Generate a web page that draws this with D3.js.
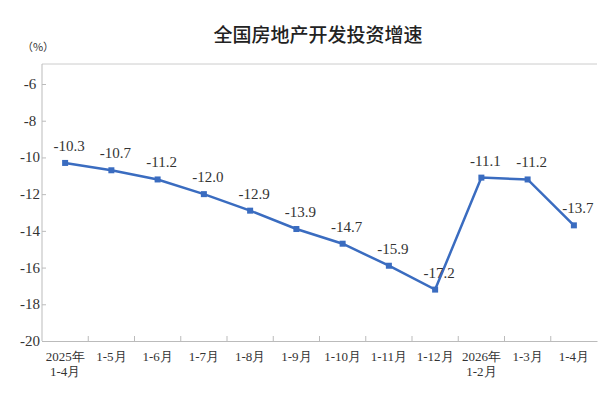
<!DOCTYPE html><html><head><meta charset="utf-8"><script src="https://cdn.jsdelivr.net/npm/d3@7"></script>
<style>body{margin:0;background:#fff}</style></head><body><svg id="c" width="600" height="400"></svg>
<script>
const categories=[["2025年","1-4月"],["1-5月"],["1-6月"],["1-7月"],["1-8月"],["1-9月"],["1-10月"],["1-11月"],["1-12月"],["2026年","1-2月"],["1-3月"],["1-4月"]];
const values=[-10.3,-10.7,-11.2,-12.0,-12.9,-13.9,-14.7,-15.9,-17.2,-11.1,-11.2,-13.7];
const yTicks=[-6,-8,-10,-12,-14,-16,-18,-20];
const svg=d3.select("#c");
const L=42,R=597,T=64,B=341;
const x=d3.scaleBand().domain(d3.range(values.length)).range([L,R]);
const y=d3.scaleLinear().domain([-20,-6]).range([B,84]);
const serif="Liberation Serif, DejaVu Serif, serif";
svg.append("text").attr("x",318).attr("y",42).attr("text-anchor","middle").attr("font-family","Noto Sans CJK SC").attr("font-weight",500).attr("font-size",19).attr("fill","#222").text("全国房地产开发投资增速");
svg.append("text").attr("x",38).attr("y",51).attr("text-anchor","middle").attr("font-family","Noto Sans CJK SC").attr("font-size",11).attr("fill","#333").text("（%）");
svg.append("line").attr("x1",L).attr("x2",R).attr("y1",T).attr("y2",T).attr("stroke","#ccc");
const ya=svg.append("g").attr("transform",`translate(${L},0)`).call(d3.axisRight(y).tickValues(yTicks).tickSize(4).tickFormat(""));
ya.select(".domain").attr("d",`M0,${T}V${B}`).attr("stroke","#bbb");
ya.selectAll("line").attr("stroke","#bbb");
yTicks.forEach(v=>svg.append("text").attr("x",30).attr("y",y(v)+5).attr("text-anchor","middle").attr("font-family",serif).attr("font-size",15).attr("fill","#333").text(v));
const xa=svg.append("g").attr("transform",`translate(0,${B})`).call(d3.axisBottom(x).tickSize(0).tickFormat(""));
xa.select(".domain").attr("stroke","#bbb");
d3.range(1,values.length).forEach(i=>svg.append("line").attr("x1",x(i)).attr("x2",x(i)).attr("y1",B).attr("y2",B-5).attr("stroke","#bbb"));
categories.forEach((c,i)=>c.forEach((t,j)=>svg.append("text").attr("x",x(i)+x.bandwidth()/2).attr("y",B+20+j*15).attr("text-anchor","middle").attr("font-family",serif).attr("font-size",13).attr("fill","#333").text(t)));
const cx=i=>x(i)+x.bandwidth()/2;
svg.append("path").datum(values).attr("fill","none").attr("stroke","#3a6cc0").attr("stroke-width",2.5).attr("d",d3.line().x((d,i)=>cx(i)).y(d=>y(d)));
svg.selectAll("rect.m").data(values).join("rect").attr("x",(d,i)=>cx(i)-3).attr("y",d=>y(d)-3).attr("width",6).attr("height",6).attr("fill","#3a6cc0");
svg.selectAll("text.v").data(values).join("text").attr("x",(d,i)=>cx(i)+4).attr("y",d=>y(d)-12).attr("text-anchor","middle").attr("font-family",serif).attr("font-size",15).attr("fill","#333").text(d=>d.toFixed(1));
</script></body></html>
